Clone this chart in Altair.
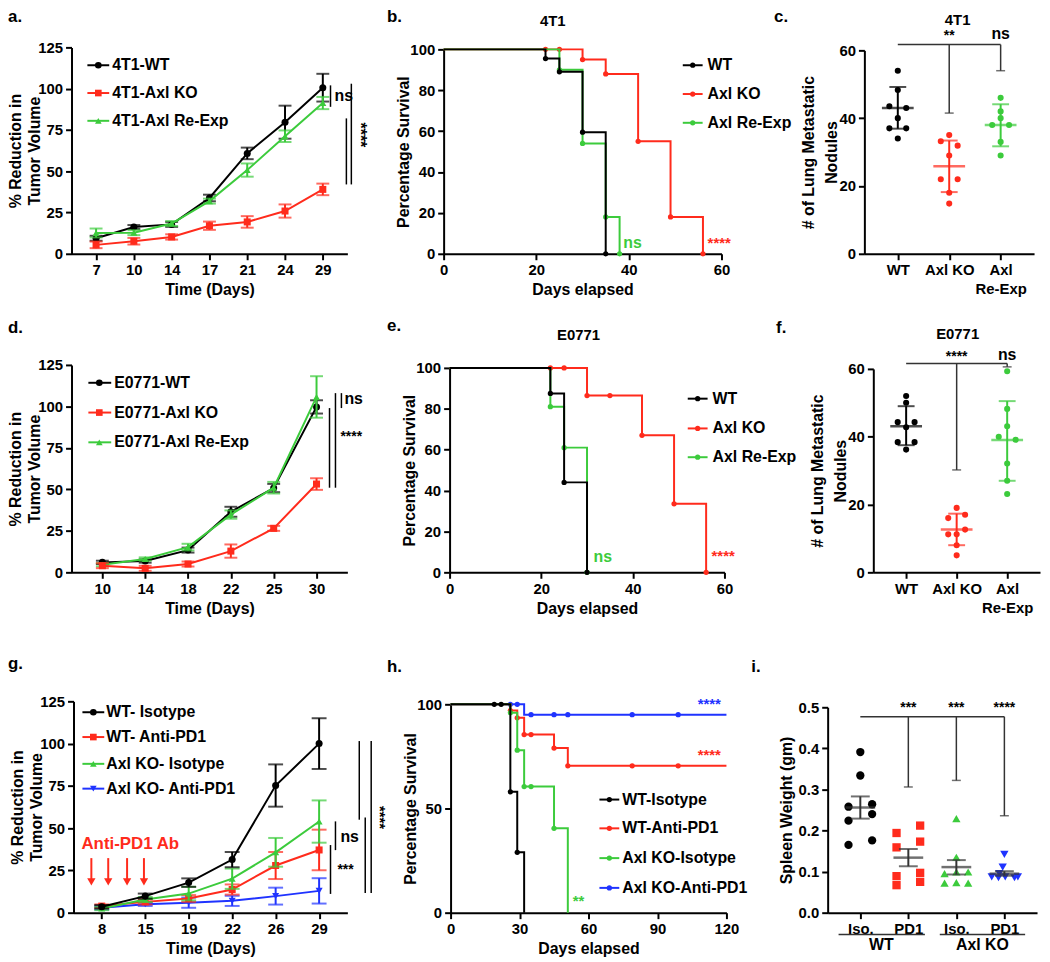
import altair as alt
import pandas as pd

FONT = "Liberation Sans"
BLACK, RED, GREEN, BLUE, GRAY = "#000000", "#FF2B1C", "#3CCB3C", "#1F33FF", "#333333"
W, H = 1042, 954

# ================= DATA =================
# a. 4T1 tumour growth
a_days = [7, 10, 14, 17, 21, 24, 29]
a_wt = [9.4, 16.2, 17.8, 33.8, 60.8, 79.7, 100.6]
a_wt_err = [1.5, 1.2, 1.5, 2.0, 3.5, 10.0, 8.4]
a_ko = [5.4, 7.6, 10.2, 17.0, 19.3, 25.9, 39.0]
a_ko_err = [2.0, 2.0, 1.6, 2.5, 3.5, 4.0, 3.5]
a_re = [12.6, 12.8, 18.3, 31.9, 50.7, 71.2, 91.3]
a_re_err = [2.7, 1.5, 1.5, 1.5, 4.0, 3.5, 3.7]

# b. 4T1 survival
b_wt_t = [0, 22, 25, 30, 35]
b_wt_s = [100, 95.5, 89, 59.5, 0]
b_ko_t = [0, 30, 35, 42, 49, 56]
b_ko_s = [100, 95, 88, 55, 18, 0]
b_re_t = [0, 25, 30, 35, 38]
b_re_s = [100, 90, 54, 18, 0]
b_ko_dot_t = [22, 25, 30, 35, 42, 49, 56]
b_ko_dot_s = [100, 100, 95, 88, 55, 18, 0]

# c. 4T1 lung nodules
c_groups = ["WT", "Axl KO", "Axl Re-Exp"]
c_wt = [54, 48.3, 43.5, 43.0, 40.0, 37.0, 37.0, 34.0]
c_wt_j = [0, 0, -1, 1, 0, -1, 1, 0]
c_ko = [35, 33.2, 31.9, 29, 22, 22, 18, 14.8]
c_ko_j = [0, -1, 1, 0, -1, 1, 0, 0]
c_re = [46, 42, 40, 38, 38, 33, 29]
c_re_j = [0, 0, 0, -1, 1, 0, 0]
c_mean = [43.0, 25.8, 38.0]
c_lo = [36.9, 18.2, 31.7]
c_hi = [49.2, 33.4, 44.1]

# d. E0771 tumour growth
d_days = [10, 14, 18, 22, 25, 30]
d_wt = [6.0, 6.8, 13.4, 36.5, 50.8, 99.7]
d_wt_err = [1.0, 1.0, 1.5, 3.0, 2.5, 4.0]
d_ko = [4.0, 2.4, 5.0, 12.8, 26.5, 53.2]
d_ko_err = [1.5, 1.5, 1.5, 4.0, 1.5, 3.5]
d_re = [4.6, 8.0, 15.2, 34.8, 51.0, 105.7]
d_re_err = [1.0, 1.0, 2.0, 2.5, 3.5, 12.5]

# e. E0771 survival
e_wt_t = [0, 22, 25, 30]
e_wt_s = [100, 87.5, 44, 0]
e_ko_t = [0, 30, 42, 49, 56]
e_ko_s = [100, 86.5, 67, 33.5, 0]
e_re_t = [0, 22, 25, 30]
e_re_s = [100, 81, 61, 0]
e_ko_dot_t = [22, 25, 30, 35, 42, 49, 56]
e_ko_dot_s = [100, 100, 86.5, 86.5, 67, 33.5, 0]

# f. E0771 lung nodules
f_wt = [52, 50, 44.3, 44.3, 42.8, 38.4, 38.4, 36.2]
f_wt_j = [0, 0, -1, 1, 0, -1, 1, 0]
f_ko = [19, 17, 16, 12.6, 11.2, 11.2, 8, 5]
f_ko_j = [0, 1, -1, 1, -1, 0, 0, 0]
f_re = [59.3, 48.2, 43.1, 40, 39.1, 32.1, 27, 23.1]
f_re_j = [0, 0, 0, -1, 1, 0, 0, 0]
f_mean = [43.1, 12.6, 39.0]
f_lo = [37.5, 8.0, 27.0]
f_hi = [49.0, 17.3, 50.5]

# g. anti-PD1 tumour growth
g_days = [8, 15, 19, 22, 26, 29]
g_wt_iso = [3.5, 9.8, 17.8, 31.4, 75.2, 100.0]
g_wt_iso_err = [1.0, 1.5, 2.5, 4.5, 12.5, 15.0]
g_wt_pd1 = [3.9, 6.4, 8.4, 13.7, 27.9, 37.1]
g_wt_pd1_err = [1.0, 1.5, 2.0, 3.0, 8.0, 12.0]
g_ko_iso = [2.5, 7.8, 11.3, 20.1, 35.7, 53.9]
g_ko_iso_err = [1.0, 1.5, 4.0, 6.0, 8.5, 12.5]
g_ko_pd1 = [2.9, 5.0, 5.9, 7.0, 9.8, 12.9]
g_ko_pd1_err = [1.0, 1.0, 3.0, 3.0, 5.0, 7.5]

# h. anti-PD1 survival
h_wi_t = [0, 26, 29, 32]
h_wi_s = [100, 58, 29, 0]
h_wi_dot_t = [19, 22, 26, 29]
h_wi_dot_s = [100, 100, 58, 29]
h_wp_t = [0, 26, 29, 32, 45, 51, 120]
h_wp_s = [100, 97, 93.5, 85.5, 79, 70.5, 70.5]
h_wp_dot_t = [26, 29, 32, 35, 45, 51, 79, 99]
h_wp_dot_s = [97, 93.5, 85.5, 85.5, 79, 70.5, 70.5, 70.5]
h_ki_t = [0, 26, 29, 32, 45, 51]
h_ki_s = [100, 96, 78, 60.5, 40.5, 0]
h_ki_dot_t = [26, 29, 32, 35, 45]
h_ki_dot_s = [96, 78, 60.5, 60.5, 40.5]
h_kp_t = [0, 32, 120]
h_kp_s = [100, 95, 95]
h_kp_dot_t = [26, 29, 35, 45, 51, 79, 99]
h_kp_dot_s = [100, 100, 95, 95, 95, 95, 95]

# i. spleen weight
i_groups = ["Iso.|WT", "PD1|WT", "Iso.|KO", "PD1|KO"]
i_wt_iso = [0.391, 0.334, 0.258, 0.264, 0.224, 0.240, 0.165, 0.176]
i_wt_iso_j = [0, 0, -1.4, 1.4, -1.4, 1.4, -1.4, 1.4]
i_wt_pd1 = [0.194, 0.212, 0.159, 0.173, 0.089, 0.097, 0.075, 0.067]
i_wt_pd1_j = [-1.4, 1.4, -1.4, 1.4, -1.4, 1.4, 1.4, -1.4]
i_ko_iso = [0.229, 0.135, 0.095, 0.099, 0.099, 0.072, 0.073, 0.072]
i_ko_iso_j = [0, 0, -1.4, 0, 1.4, -1.4, 0, 1.4]
i_ko_pd1 = [0.142, 0.111, 0.095, 0.087, 0.085, 0.087, 0.085, 0.087]
i_ko_pd1_j = [0, -0.2, -0.6, -1.5, -0.7, 0.1, 1.2, 1.6]
i_mean = [0.256, 0.134, 0.111, 0.095]
i_lo = [0.229, 0.113, 0.093, 0.090]
i_hi = [0.283, 0.155, 0.128, 0.101]

# ================= HELPERS =================
def px(x):
    return x - 8


def py(y):
    return y - 8


DUMMY = pd.DataFrame({"k": [0]})
JIT = alt.Scale(domain=[-1, 1], range=[-8.5, 8.5])


class Panel:
    def __init__(self, xs, xtype, xa, ys, ya):
        self.xs, self.xtype, self.xa, self.ys, self.ya = xs, xtype, xa, ys, ya

    def X(self, f):
        return alt.X(field=f, type=self.xtype, scale=self.xs, axis=self.xa)

    def Y(self, f):
        return alt.Y(field=f, type="quantitative", scale=self.ys, axis=self.ya)


def make_panel(xl, xr, yb, yt, ydom, yvals, ytitle, xtitle, xtype, xdom,
               xvals=None, xpad=0.65, yfmt=None, labelExpr=None, tline=20, tpad=-3):
    if xtype == "quantitative":
        xs = alt.Scale(domain=xdom, range=[px(xl), px(xr)], nice=False, zero=False)
    else:
        xs = alt.Scale(type="point", domain=xdom, range=[px(xl), px(xr)], padding=xpad)
    xa_kw = dict(orient="bottom", offset=py(yb) - H, title=xtitle, labelAngle=0)
    if xvals is not None:
        xa_kw["values"] = xvals
    if labelExpr:
        xa_kw["labelExpr"] = labelExpr
    ys = alt.Scale(domain=ydom, range=[py(yb), py(yt)], nice=False, zero=False)
    ya_kw = dict(orient="left", offset=-px(xl), title=ytitle, values=yvals,
                 titlePadding=tpad, titleLineHeight=tline)
    if yfmt:
        ya_kw["format"] = yfmt
    return Panel(xs, xtype, alt.Axis(**xa_kw), ys, alt.Axis(**ya_kw))


def txt(text, x, y, size=16, color=BLACK, align="left", baseline="middle", angle=0):
    kw = dict(text=text, fontSize=size, color=color, align=align, baseline=baseline,
              font=FONT, fontWeight="bold")
    if angle:
        kw["angle"] = angle
    return alt.Chart(DUMMY).mark_text(**kw).encode(x=alt.value(px(x)), y=alt.value(py(y)))


def dtxt(P, text, x, yv, size=16, color=BLACK, align="left", angle=0):
    kw = dict(text=text, fontSize=size, color=color, align=align, baseline="middle",
              font=FONT, fontWeight="bold")
    if angle:
        kw["angle"] = angle
    return alt.Chart(pd.DataFrame({"y": [yv]})).mark_text(**kw).encode(
        x=alt.value(px(x)), y=P.Y("y"))


def vrule(P, x, y1, y2, color=BLACK, w=1.5):
    return alt.Chart(pd.DataFrame({"y": [y1], "y2": [y2]})).mark_rule(
        color=color, strokeWidth=w).encode(x=alt.value(px(x)), y=P.Y("y"), y2="y2")


def growth(P, days, vals, errs, color, shape, size=50, cap=13):
    df = pd.DataFrame({"d": days, "v": vals,
                       "lo": [v - e for v, e in zip(vals, errs)],
                       "hi": [v + e for v, e in zip(vals, errs)]})
    b = alt.Chart(df)
    return [
        b.mark_rule(color=color, strokeWidth=2).encode(x=P.X("d"), y=P.Y("lo"), y2="hi"),
        b.mark_tick(color=color, thickness=2, size=cap).encode(x=P.X("d"), y=P.Y("lo")),
        b.mark_tick(color=color, thickness=2, size=cap).encode(x=P.X("d"), y=P.Y("hi")),
        b.mark_line(color=color, strokeWidth=2).encode(x=P.X("d"), y=P.Y("v")),
        b.mark_point(color=color, filled=True, opacity=1, shape=shape, size=size).encode(
            x=P.X("d"), y=P.Y("v")),
    ]


def surv(P, t, s, dt, ds, color):
    return [
        alt.Chart(pd.DataFrame({"t": t, "s": s})).mark_line(
            color=color, strokeWidth=2, interpolate="step-after").encode(x=P.X("t"), y=P.Y("s")),
        alt.Chart(pd.DataFrame({"t": dt, "s": ds})).mark_point(
            color=color, filled=True, opacity=1, size=28).encode(x=P.X("t"), y=P.Y("s")),
    ]


def scatter(P, groups, vals, jits, colors, shapes, size, means, los, his, mcolors, mean_w, cap_w):
    layers = []
    for g, v, j, c, s in zip(groups, vals, jits, colors, shapes):
        df = pd.DataFrame({"g": [g] * len(v), "v": v, "j": j})
        layers.append(alt.Chart(df).mark_point(filled=True, opacity=1, color=c, shape=s, size=size).encode(
            x=P.X("g"), y=P.Y("v"), xOffset=alt.XOffset("j:Q", scale=JIT)))
    for g, m, lo, hi, c in zip(groups, means, los, his, mcolors):
        b = alt.Chart(pd.DataFrame({"g": [g], "m": [m], "lo": [lo], "hi": [hi]}))
        layers += [
            b.mark_rule(color=c, strokeWidth=2).encode(x=P.X("g"), y=P.Y("lo"), y2="hi"),
            b.mark_tick(color=c, thickness=2, size=cap_w).encode(x=P.X("g"), y=P.Y("lo")),
            b.mark_tick(color=c, thickness=2, size=cap_w).encode(x=P.X("g"), y=P.Y("hi")),
            b.mark_tick(color=c, thickness=2.5, size=mean_w).encode(x=P.X("g"), y=P.Y("m")),
        ]
    return layers


def bracket(P, g_from, g_to, ybar, targets, drops, labels, label_y, sizes):
    layers = [alt.Chart(pd.DataFrame({"g": [g_from, g_to], "y": [ybar, ybar]})).mark_line(
        color=GRAY, strokeWidth=1.5).encode(x=P.X("g"), y=P.Y("y"))]
    df = pd.DataFrame({"g": targets, "y": [ybar] * len(targets), "y2": drops})
    layers.append(alt.Chart(df).mark_rule(color=GRAY, strokeWidth=1.5).encode(
        x=P.X("g"), y=P.Y("y"), y2="y2"))
    layers.append(alt.Chart(df).mark_tick(color=GRAY, thickness=1.5, size=9).encode(
        x=P.X("g"), y=P.Y("y2")))
    for g, lab, ly, sz in zip(targets, labels, label_y, sizes):
        layers.append(alt.Chart(pd.DataFrame({"g": [g], "y": [ly]})).mark_text(
            text=lab, fontSize=sz, font=FONT, fontWeight="bold", color=BLACK,
            baseline="middle").encode(x=P.X("g"), y=P.Y("y")))
    return layers


def legend(items, x0, x1, xm, xt, ys, msize=45):
    layers = []
    for (label, color, shape), y in zip(items, ys):
        layers.append(alt.Chart(DUMMY).mark_rule(color=color, strokeWidth=2).encode(
            x=alt.value(px(x0)), x2=alt.value(px(x1)), y=alt.value(py(y))))
        layers.append(alt.Chart(DUMMY).mark_point(color=color, filled=True, opacity=1,
                                                  shape=shape, size=msize).encode(
            x=alt.value(px(xm)), y=alt.value(py(y))))
        layers.append(txt(label, xt, y, size=16))
    return layers


GROWTH_T = ["% Reduction in", "Tumor Volume"]
NOD_T = ["# of Lung Metastatic", "Nodules"]
RE_EXPR = "datum.label == 'Axl Re-Exp' ? ['Axl', 'Re-Exp'] : datum.label"

panels = []

# ---------- a ----------
Pa = make_panel(72, 350, 252, 44, [0, 125], [0, 25, 50, 75, 100, 125], GROWTH_T,
                "Time (Days)", "ordinal", a_days, xpad=0.65, tline=19, tpad=-5)
la = []
la += growth(Pa, a_days, a_wt, a_wt_err, BLACK, "circle")
la += growth(Pa, a_days, a_re, a_re_err, GREEN, "triangle-up")
la += growth(Pa, a_days, a_ko, a_ko_err, RED, "square")
la += [vrule(Pa, 333, 102, 89), dtxt(Pa, "ns", 337, 95.5),
       vrule(Pa, 349, 82, 42), vrule(Pa, 354, 103, 42),
       dtxt(Pa, "****", 363, 72, size=16, align="center", angle=90)]
la += legend([("4T1-WT", BLACK, "circle"), ("4T1-Axl KO", RED, "square"),
              ("4T1-Axl Re-Exp", GREEN, "triangle-up")], 88, 110, 99, 113, [62, 90, 118])
panels.append(alt.layer(*la))

# ---------- b ----------
Pb = make_panel(447, 727, 252, 46, [0, 100], [0, 20, 40, 60, 80, 100], "Percentage Survival",
                "Days elapsed", "quantitative", [0, 60], xvals=[0, 20, 40, 60], tpad=-2)
lb = []
lb += surv(Pb, b_ko_t, b_ko_s, b_ko_dot_t, b_ko_dot_s, RED)
lb += surv(Pb, b_re_t, b_re_s, b_re_t[1:], b_re_s[1:], GREEN)
lb += surv(Pb, b_wt_t, b_wt_s, b_wt_t[1:], b_wt_s[1:], BLACK)
lb += [dtxt(Pb, "ns", 628, 5.5, color=GREEN), dtxt(Pb, "****", 713, 5.5, size=15, color=RED)]
lb += legend([("WT", BLACK, "circle"), ("Axl KO", RED, "circle"),
              ("Axl Re-Exp", GREEN, "circle")], 688, 708, 698, 713, [62, 91, 120], msize=28)
panels.append(alt.layer(*lb))

# ---------- c ----------
Pc = make_panel(871, 1042, 252, 47, [0, 60], [0, 20, 40, 60], NOD_T, "", "nominal",
                c_groups, xpad=0.65, labelExpr=RE_EXPR, tline=24, tpad=-1)
lc = scatter(Pc, c_groups, [c_wt, c_ko, c_re], [c_wt_j, c_ko_j, c_re_j],
             [BLACK, RED, GREEN], ["circle"] * 3, 38, c_mean, c_lo, c_hi,
             [BLACK, RED, GREEN], 32, 17)
lc += bracket(Pc, "WT", "Axl Re-Exp", 61.7, ["Axl KO", "Axl Re-Exp"], [41.5, 54.0],
              ["**", "ns"], [64.2, 64.8], [14, 16])
panels.append(alt.layer(*lc))

# ---------- d ----------
Pd = make_panel(72, 350, 573, 364, [0, 125], [0, 25, 50, 75, 100, 125], GROWTH_T,
                "Time (Days)", "ordinal", d_days, xpad=0.72, tline=19, tpad=-5)
ld = []
ld += growth(Pd, d_days, d_wt, d_wt_err, BLACK, "circle")
ld += growth(Pd, d_days, d_re, d_re_err, GREEN, "triangle-up")
ld += growth(Pd, d_days, d_ko, d_ko_err, RED, "square")
ld += [vrule(Pd, 332, 99, 51), vrule(Pd, 338, 108, 51), vrule(Pd, 344, 108, 99),
       dtxt(Pd, "ns", 347, 104.5), dtxt(Pd, "****", 343, 81.3, size=14)]
ld += legend([("E0771-WT", BLACK, "circle"), ("E0771-Axl KO", RED, "square"),
              ("E0771-Axl Re-Exp", GREEN, "triangle-up")], 89, 112, 100, 115, [382, 412, 442])
panels.append(alt.layer(*ld))

# ---------- e ----------
Pe = make_panel(453, 730, 573, 367, [0, 100], [0, 20, 40, 60, 80, 100], "Percentage Survival",
                "Days elapsed", "quantitative", [0, 60], xvals=[0, 20, 40, 60], tpad=-2)
le = []
le += surv(Pe, e_ko_t, e_ko_s, e_ko_dot_t, e_ko_dot_s, RED)
le += surv(Pe, e_re_t, e_re_s, e_re_t[1:], e_re_s[1:], GREEN)
le += surv(Pe, e_wt_t, e_wt_s, e_wt_t[1:], e_wt_s[1:], BLACK)
le += [dtxt(Pe, "ns", 598, 7.5, color=GREEN), dtxt(Pe, "****", 717, 7.8, size=15, color=RED)]
le += legend([("WT", BLACK, "circle"), ("Axl KO", RED, "circle"),
              ("Axl Re-Exp", GREEN, "circle")], 693, 713, 703, 718, [398, 428, 457], msize=28)
panels.append(alt.layer(*le))

# ---------- f ----------
Pf = make_panel(880, 1048, 573, 368, [0, 60], [0, 20, 40, 60], NOD_T, "", "nominal",
                c_groups, xpad=0.65, labelExpr=RE_EXPR, tline=24, tpad=-1)
lf = scatter(Pf, c_groups, [f_wt, f_ko, f_re], [f_wt_j, f_ko_j, f_re_j],
             [BLACK, RED, GREEN], ["circle"] * 3, 38, f_mean, f_lo, f_hi,
             [BLACK, RED, GREEN], 32, 17)
lf += bracket(Pf, "WT", "Axl Re-Exp", 61.6, ["Axl KO", "Axl Re-Exp"], [30.2, 60.6],
              ["****", "ns"], [63.4, 64.0], [14, 16])
panels.append(alt.layer(*lf))

# ---------- g ----------
Pg = make_panel(74, 350, 916, 703, [0, 125], [0, 25, 50, 75, 100, 125], GROWTH_T,
                "Time (Days)", "ordinal", g_days, xpad=0.65, tline=19, tpad=-5)
lg = []
lg += growth(Pg, g_days, g_ko_pd1, g_ko_pd1_err, BLUE, "triangle-down", cap=15)
lg += growth(Pg, g_days, g_wt_pd1, g_wt_pd1_err, RED, "square", cap=15)
lg += growth(Pg, g_days, g_ko_iso, g_ko_iso_err, GREEN, "triangle-up", cap=15)
lg += growth(Pg, g_days, g_wt_iso, g_wt_iso_err, BLACK, "circle", cap=15)
lg += [vrule(Pg, 338, 54, 37), dtxt(Pg, "ns", 343, 44.6),
       vrule(Pg, 333, 40, 11.1), dtxt(Pg, "***", 340, 25.2, size=14),
       vrule(Pg, 362, 101.5, 55), vrule(Pg, 368, 56.3, 11.7), vrule(Pg, 374, 101.5, 11.7),
       dtxt(Pg, "****", 383, 56.3, size=15, align="center", angle=90)]
lg += legend([("WT- Isotype", BLACK, "circle"), ("WT- Anti-PD1", RED, "square"),
              ("Axl KO- Isotype", GREEN, "triangle-up"), ("Axl KO- Anti-PD1", BLUE, "triangle-down")],
             83, 105, 94, 107, [714, 739, 766, 791])
lg += [txt("Anti-PD1 Ab", 82, 847, size=17, color=RED)]
for ax in [92, 109, 128, 145]:
    lg.append(alt.Chart(DUMMY).mark_rule(color=RED, strokeWidth=2).encode(
        x=alt.value(px(ax)), y=alt.value(py(861)), y2=alt.value(py(883))))
    lg.append(alt.Chart(DUMMY).mark_point(color=RED, filled=True, opacity=1,
                                          shape="triangle-down", size=70).encode(
        x=alt.value(px(ax)), y=alt.value(py(885))))
panels.append(alt.layer(*lg))

# ---------- h ----------
Ph = make_panel(454, 732, 916, 706, [0, 100], [0, 50, 100], "Percentage Survival",
                "Days elapsed", "quantitative", [0, 120], xvals=[0, 30, 60, 90, 120], tpad=-2)
lh = []
lh += surv(Ph, h_kp_t, h_kp_s, h_kp_dot_t, h_kp_dot_s, BLUE)
lh += surv(Ph, h_wp_t, h_wp_s, h_wp_dot_t, h_wp_dot_s, RED)
lh += surv(Ph, h_ki_t, h_ki_s, h_ki_dot_t, h_ki_dot_s, GREEN)
lh += surv(Ph, h_wi_t, h_wi_s, h_wi_dot_t, h_wi_dot_s, BLACK)
lh += [dtxt(Ph, "**", 577, 5.7, size=15, color=GREEN),
       dtxt(Ph, "****", 703, 100, size=15, color=BLUE),
       dtxt(Ph, "****", 703, 75.5, size=15, color=RED)]
lh += legend([("WT-Isotype", BLACK, "circle"), ("WT-Anti-PD1", RED, "circle"),
              ("Axl KO-Isotype", GREEN, "circle"), ("Axl KO-Anti-PD1", BLUE, "circle")],
             604, 624, 614, 627, [802, 831, 861, 891], msize=28)
panels.append(alt.layer(*lh))

# ---------- i ----------
Pi = make_panel(834, 1045, 916, 709, [0, 0.5], [0, 0.1, 0.2, 0.3, 0.4, 0.5],
                "Spleen Weight (gm)", "", "nominal", i_groups, xpad=0.68, yfmt=".1f",
                labelExpr="split(datum.label, '|')[0]", tpad=4)
li = scatter(Pi, i_groups, [i_wt_iso, i_wt_pd1, i_ko_iso, i_ko_pd1],
             [i_wt_iso_j, i_wt_pd1_j, i_ko_iso_j, i_ko_pd1_j],
             [BLACK, RED, GREEN, BLUE], ["circle", "square", "triangle-up", "triangle-down"],
             70, i_mean, i_lo, i_hi, [GRAY] * 4, 30, 19)
li += bracket(Pi, "Iso.|WT", "PD1|KO", 0.477, ["PD1|WT", "Iso.|KO", "PD1|KO"],
              [0.306, 0.322, 0.236], ["***", "***", "****"], [0.497, 0.497, 0.497], [14, 14, 14])
li += [
    alt.Chart(DUMMY).mark_rule(color=GRAY, strokeWidth=1.5).encode(
        x=alt.value(px(845)), x2=alt.value(px(932)), y=alt.value(py(938))),
    alt.Chart(DUMMY).mark_rule(color=GRAY, strokeWidth=1.5).encode(
        x=alt.value(px(947)), x2=alt.value(px(1033)), y=alt.value(py(938))),
    txt("WT", 888, 949, align="center"),
    txt("Axl KO", 990, 949, align="center"),
]
panels.append(alt.layer(*li))

# ---------- panel letters and titles ----------
ann = [
    txt("a.", 8, 18, size=17, baseline="alphabetic"),
    txt("b.", 390, 18, size=17, baseline="alphabetic"),
    txt("c.", 780, 18, size=17, baseline="alphabetic"),
    txt("d.", 8, 332, size=17, baseline="alphabetic"),
    txt("e.", 390, 330, size=17, baseline="alphabetic"),
    txt("f.", 782, 332, size=17, baseline="alphabetic"),
    txt("g.", 8, 670, size=17, baseline="alphabetic"),
    txt("h.", 390, 673, size=17, baseline="alphabetic"),
    txt("i.", 757, 673, size=17, baseline="alphabetic"),
    txt("4T1", 557, 17, size=15, align="center"),
    txt("4T1", 965, 16, size=15, align="center"),
    txt("E0771", 583, 334, size=15, align="center"),
    txt("E0771", 965, 333, size=15, align="center"),
]
panels.append(alt.layer(*ann))

chart = alt.layer(*panels).resolve_scale(
    x="independent", y="independent"
).properties(
    width=W, height=H, padding=0, autosize=alt.AutoSizeParams(type="none")
).configure_view(
    strokeWidth=0
).configure_axis(
    grid=False, domainColor=BLACK, domainWidth=2, tickColor=BLACK, tickWidth=2, tickSize=6,
    labelFont=FONT, labelFontSize=15, labelFontWeight="bold", labelColor=BLACK,
    labelPadding=3, labelFlush=False, labelOverlap=False, labelLineHeight=19,
    titleFont=FONT, titleFontSize=16, titleFontWeight="bold", titleColor=BLACK,
    titlePadding=4, titleLineHeight=20
)

chart.save("out.html", embed_options={"renderer": "svg", "actions": False})
